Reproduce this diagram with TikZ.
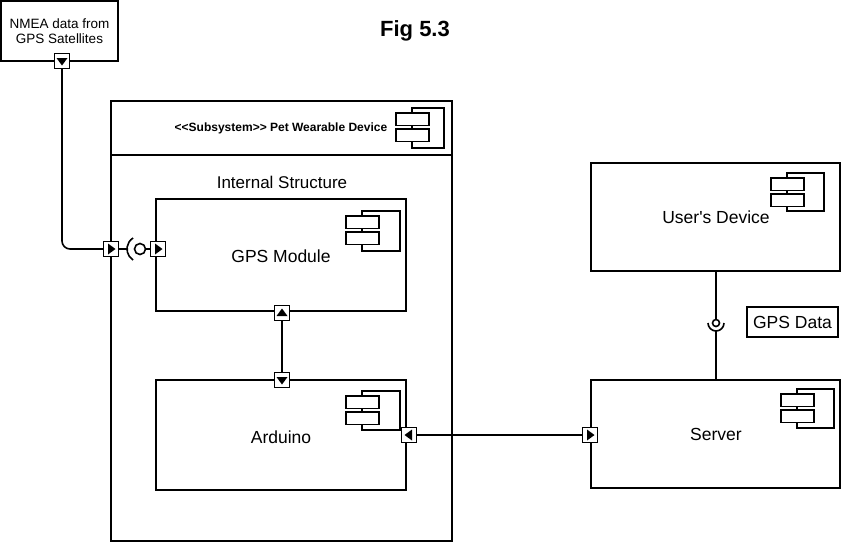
\documentclass[tikz,border=0pt]{standalone}
\usepackage{fontspec}
\setmainfont{Liberation Sans}
\usetikzlibrary{calc}
\tikzset{
  box/.style={draw=black, line width=1.6pt, fill=white},
  icon/.style={draw=black, line width=1.5pt},
  port/.style={draw=black, line width=1.5pt, fill=white, minimum size=15pt, inner sep=0pt, outer sep=0pt},
  wire/.style={draw=black, line width=1.6pt},
  lbl/.style={font=\fontsize{17.5}{21}\selectfont, inner sep=0pt},
}
\newcommand\TriR[1]{\fill ($(#1)+(-3,-5.5)$) -- ($(#1)+(4.5,0)$) -- ($(#1)+(-3,5.5)$) -- cycle;}
\newcommand\TriL[1]{\fill ($(#1)+(3,-5.5)$) -- ($(#1)+(-4.5,0)$) -- ($(#1)+(3,5.5)$) -- cycle;}
\newcommand\TriD[1]{\fill ($(#1)+(-5.5,-3)$) -- ($(#1)+(5.5,-3)$) -- ($(#1)+(0,4.5)$) -- cycle;}
\newcommand\TriU[1]{\fill ($(#1)+(-5.5,3)$) -- ($(#1)+(5.5,3)$) -- ($(#1)+(0,-4.5)$) -- cycle;}
\newcommand\CompIcon[4]{%
  \draw[icon] (#1,#2) rectangle ++(#3,#4);
  \draw[icon,fill=white] (#1-16,#2+5) rectangle ++(33,12.5);
  \draw[icon,fill=white] (#1-16,#2+21) rectangle ++(33,12.5);}
\begin{document}
\begin{tikzpicture}[x=1pt,y=-1pt]
\useasboundingbox (0,0) rectangle (842,542);
\fill[white] (0,0) rectangle (842,542);

% title
\node[font=\fontsize{22}{26}\selectfont\bfseries, inner sep=0pt] (title) at (415,31) {Fig 5.3};

% NMEA source
\node[box, minimum width=117pt, minimum height=60pt, inner sep=0pt, align=center,
      font=\fontsize{13.5}{15.5}\selectfont] (nmea) at (59.5,31) {NMEA data from\\GPS Satellites};

% subsystem
\draw[box] (111,101) rectangle (452,541);
\draw[line width=1.6pt] (111,155) -- (452,155);
\coordinate (hdr) at (281,128);
\node[font=\fontsize{12}{14}\selectfont\bfseries, inner sep=0pt] (subtitle) at (hdr) {{<}{<}Subsystem{>}{>} Pet Wearable Device};
\CompIcon{412}{108}{32}{40}
\node[font=\fontsize{17}{20}\selectfont, inner sep=0pt] (internal) at (282,182) {Internal Structure};

% GPS module
\draw[box] (156,199) rectangle (406,311);
\node[lbl] (gps) at (281,256) {GPS Module};
\CompIcon{362}{211}{38}{40}

% Arduino
\draw[box] (156,380) rectangle (406,490);
\node[lbl] (ard) at (281,437) {Arduino};
\CompIcon{362}{391}{38}{39}

% User's Device
\draw[box] (591,163) rectangle (840,271);
\node[lbl] (user) at (716,217) {User\textquotesingle s Device};
\CompIcon{787}{173}{37}{38}
\coordinate (userbot) at (716,271);

% Server
\draw[box] (591,380) rectangle (840,488);
\node[lbl] (server) at (716,434) {Server};
\CompIcon{797}{389}{37}{39}
\coordinate (servtop) at (716,380);

% GPS Data label
\node[box, minimum width=91pt, minimum height=30pt, inner sep=0pt, font=\fontsize{17.5}{21}\selectfont] (gpsdata) at (792.5,322) {GPS Data};

% ports
\node[port] (p1) at (62,61) {};
\node[port] (p2) at (111,249) {};
\node[port] (p3) at (158,249) {};
\node[port] (p4) at (282,313) {};
\node[port] (p5) at (282,380) {};
\node[port] (p6) at (409,435) {};
\node[port] (p7) at (590,435) {};
\TriD{p1}
\TriR{p2}
\TriR{p3}
\TriU{p4}
\TriD{p5}
\TriL{p6}
\TriR{p7}

% NMEA wire
\draw[wire, rounded corners=8pt] (p1.south) -- (p1.south |- p2.west) -- (p2.west);

% left ball and socket
\coordinate (bs) at (140,249);
\draw[wire] (bs) circle (5.5);
\draw[wire] ($(bs)+(122:13)$) arc (122:238:13);
\coordinate (sockL) at (127,249);
\coordinate (ballR) at (145.5,249);
\draw[wire] (p2.east) -- (sockL);
\draw[wire] (ballR) -- (p3.west);

% GPS to Arduino
\draw[wire] (p4.south) -- (p5.north);

% Arduino to Server
\draw[wire] (p6.east) -- (p7.west);

% user device / server lollipop
\coordinate (lb) at (716,323);
\coordinate (ballT) at (716,319.5);
\coordinate (sockB) at (716,331);
\draw[wire] (lb) circle (3.5);
\draw[wire] ($(lb)+(0:8)$) arc (0:180:8);
\draw[wire] (userbot) -- (ballT);
\draw[wire] (sockB) -- (servtop);
\end{tikzpicture}
\end{document}
